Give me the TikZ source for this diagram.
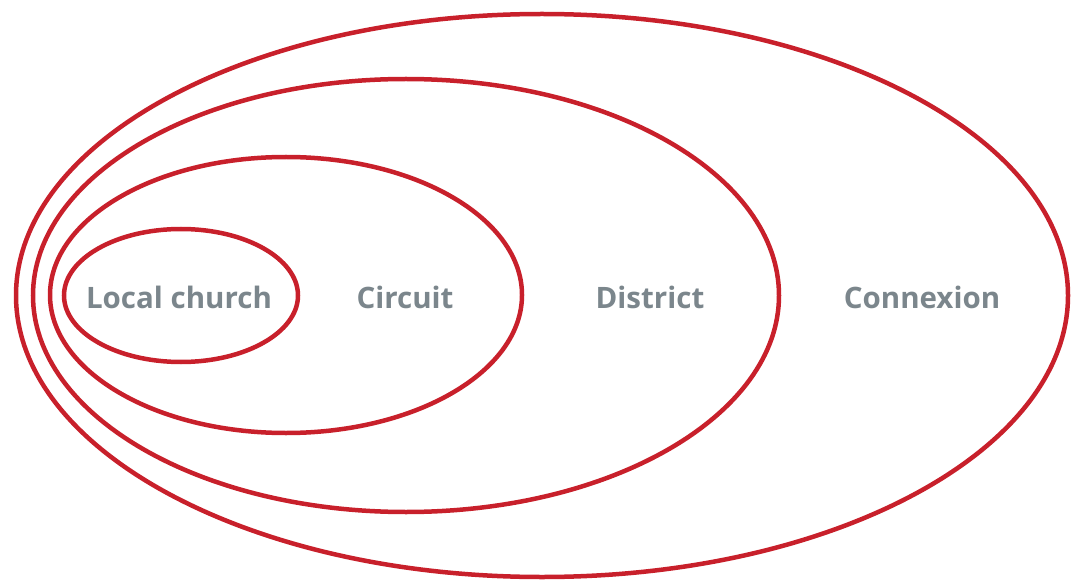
\documentclass[tikz,border=0pt]{standalone}
\usepackage{fontspec}
\setmainfont{Open Sans}
\definecolor{ring}{HTML}{C8202B}
\definecolor{lbl}{HTML}{7B868C}
\begin{document}
\begin{tikzpicture}[x=1pt,y=-1pt,
  ring/.style={draw=ring,line width=4.5pt},
  lbl/.style={text=lbl,font=\fontsize{29.5}{31}\selectfont\bfseries,inner sep=0pt}]
\useasboundingbox (0,0) rectangle (1076,580);
\draw[ring] (542,295.5) ellipse [x radius=526,y radius=281.5];
\draw[ring] (406,295.5) ellipse [x radius=373,y radius=216.5];
\draw[ring] (286,295) ellipse [x radius=236,y radius=138];
\draw[ring] (181,295.5) ellipse [x radius=117,y radius=66.5];
\node[lbl] (lc) at (179,297) {Local church};
\node[lbl] (ci) at (405,297) {Circuit};
\node[lbl] (di) at (650,297) {District};
\node[lbl] (co) at (922,297) {Connexion};
\end{tikzpicture}
\end{document}
